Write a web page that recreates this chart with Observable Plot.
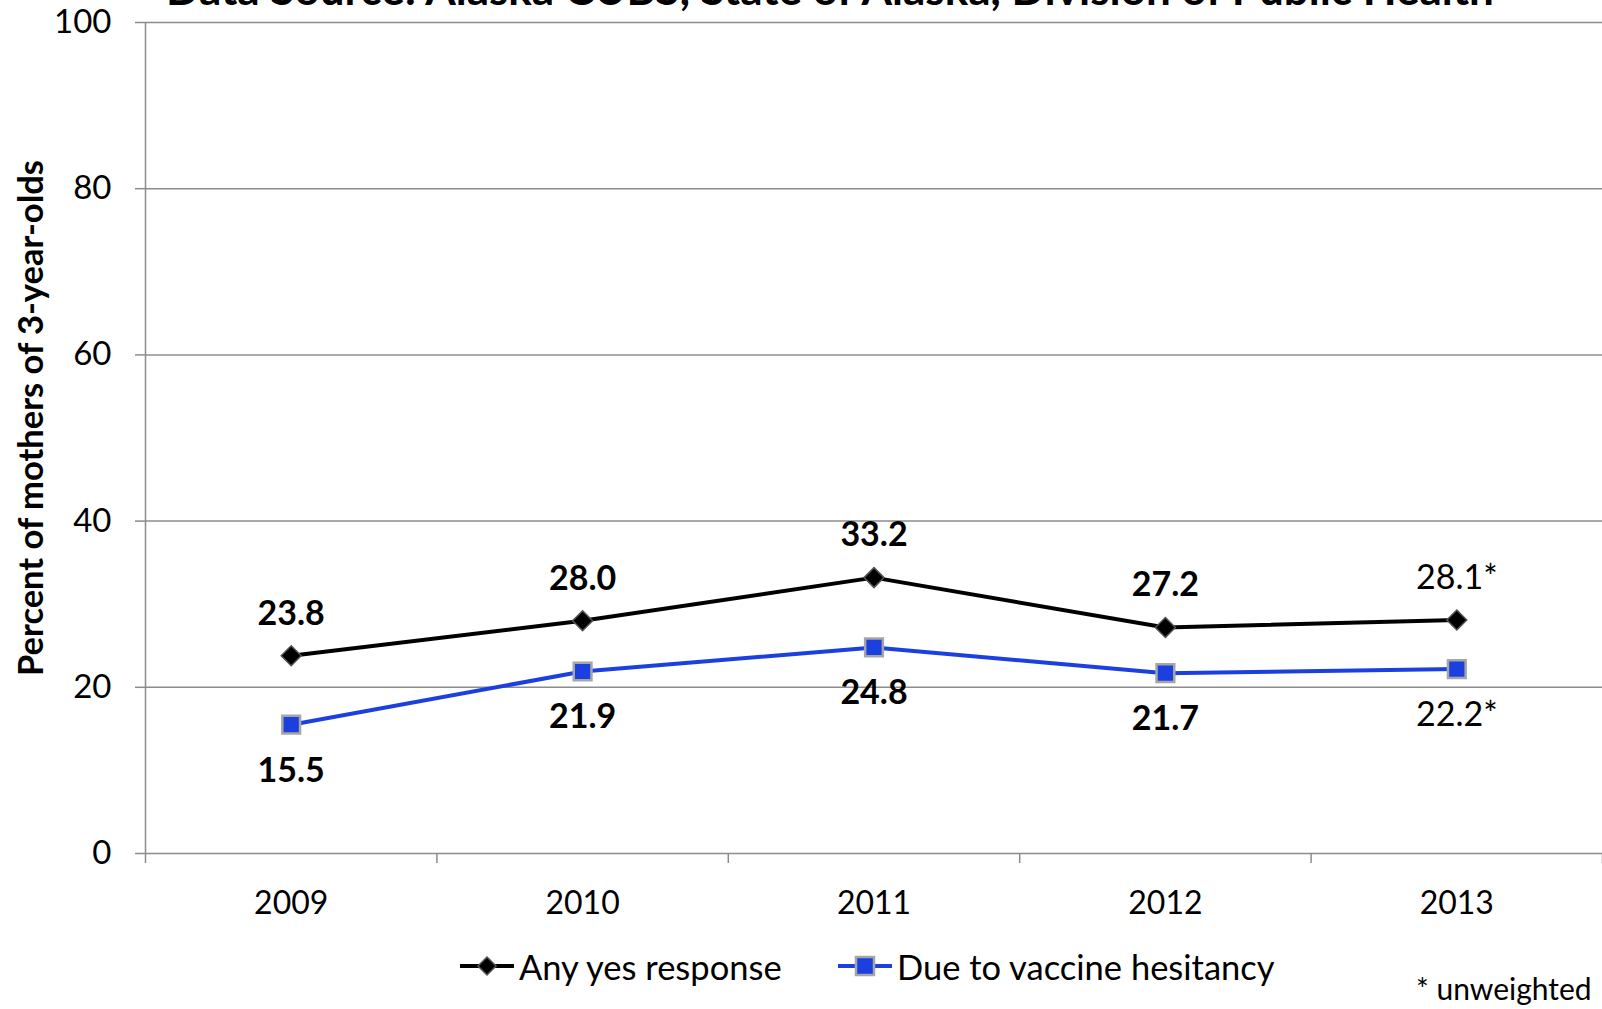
<!DOCTYPE html>
<html>
<head>
<meta charset="utf-8">
<script src="https://cdn.jsdelivr.net/npm/d3@7"></script>
<script src="https://cdn.jsdelivr.net/npm/@observablehq/plot@0.6"></script>
<style>
  html, body { margin: 0; padding: 0; background: #fff; }
  body { width: 1602px; height: 1009px; position: relative; overflow: hidden; font-family: Lato, "Open Sans", sans-serif; color: #000; }
  #title { position: absolute; left: 0; width: 1660px; text-align: center; font-weight: bold; font-size: 44px; line-height: 44px; top: -34px; white-space: nowrap; z-index: 2; }
  #chart { position: absolute; left: 0; top: 0; z-index: 1; }
  .legend-item { position: absolute; display: flex; align-items: center; font-size: 34.5px; white-space: nowrap; z-index: 2; }
  .legend-item svg { margin-right: 5px; }
  #note { position: absolute; left: 1416px; top: 970px; font-size: 30px; white-space: nowrap; z-index: 2; }
</style>
</head>
<body>
<div id="title">Data Source: Alaska CUBS, State of Alaska, Division of Public Health</div>
<div id="chart"></div>
<div id="legend"></div>
<div id="note">* unweighted</div>
<script>
// ---- data ----
const years = [2009, 2010, 2011, 2012, 2013];
const anyYes = [23.8, 28.0, 33.2, 27.2, 28.1];
const vaccineHesitancy = [15.5, 21.9, 24.8, 21.7, 22.2];
const unweighted = [false, false, false, false, true];
const seriesNames = ["Any yes response", "Due to vaccine hesitancy"];
const seriesColors = ["#000000", "#1c3fe0"];
const yTicks = [0, 20, 40, 60, 80, 100];
const yLabel = "Percent of mothers of 3-year-olds";

const rows = [];
years.forEach((yr, i) => {
  rows.push({year: yr, series: seriesNames[0], value: anyYes[i], unweighted: unweighted[i]});
  rows.push({year: yr, series: seriesNames[1], value: vaccineHesitancy[i], unweighted: unweighted[i]});
});
const black = rows.filter(d => d.series === seriesNames[0]);
const blue = rows.filter(d => d.series === seriesNames[1]);
const bounds = [years[0] - 0.5, ...years.map(y => y + 0.5)];
const fmt = d => d.value.toFixed(1) + (d.unweighted ? "*" : "");
const gridColor = "#8c8c8c";

const chart = Plot.plot({
  width: 1602,
  height: 930,
  marginTop: 22,
  marginBottom: 77,
  marginLeft: 145,
  marginRight: 0,
  style: {fontFamily: "Lato, 'Open Sans', sans-serif", color: "#000", background: "transparent", overflow: "visible"},
  x: {type: "linear", domain: [bounds[0], bounds[bounds.length - 1]]},
  y: {domain: [0, 100]},
  marks: [
    Plot.gridY(yTicks.filter(v => v > 0), {stroke: gridColor, strokeOpacity: 1, strokeWidth: 1.5}),
    Plot.ruleY([0], {stroke: gridColor, strokeWidth: 1.5}),
    Plot.ruleX([bounds[0]], {y1: 0, y2: 100, stroke: gridColor, strokeWidth: 1.5}),
    Plot.axisY(yTicks, {tickSize: 10, tickPadding: 24, fontSize: 33, stroke: gridColor, strokeWidth: 1.5, label: null}),
    Plot.axisX(bounds, {tickSize: 10, tickFormat: () => "", stroke: gridColor, strokeWidth: 1.5, label: null}),
    Plot.axisX(years, {tickSize: 0, tickPadding: 38, fontSize: 32, tickFormat: d => String(d), label: null}),
    Plot.text([yLabel], {frameAnchor: "left", textAnchor: "middle", text: d => d, rotate: -90, dx: -114, dy: -20, fontSize: 34.5, fontWeight: "bold"}),
    Plot.line(black, {x: "year", y: "value", stroke: seriesColors[0], strokeWidth: 4}),
    Plot.line(blue, {x: "year", y: "value", stroke: seriesColors[1], strokeWidth: 4}),
    Plot.dot(black, {x: "year", y: "value", symbol: "diamond2", r: 9, fill: seriesColors[0], stroke: "#555", strokeWidth: 1.5}),
    Plot.dot(blue, {x: "year", y: "value", symbol: "square", r: 10, fill: seriesColors[1], stroke: "#a6a6a6", strokeWidth: 2.5}),
    Plot.text(black.filter(d => !d.unweighted), {x: "year", y: "value", text: fmt, dy: -42, fontSize: 34, fontWeight: "bold"}),
    Plot.text(black.filter(d => d.unweighted), {x: "year", y: "value", text: fmt, dy: -42, fontSize: 34}),
    Plot.text(blue.filter(d => !d.unweighted), {x: "year", y: "value", text: fmt, dy: 46, fontSize: 34, fontWeight: "bold"}),
    Plot.text(blue.filter(d => d.unweighted), {x: "year", y: "value", text: fmt, dy: 46, fontSize: 34})
  ]
});
document.getElementById("chart").appendChild(chart);

// ---- legend ----
const legend = document.getElementById("legend");
const legendLefts = [460, 838];
seriesNames.forEach((name, i) => {
  const item = document.createElement("div");
  item.className = "legend-item";
  item.style.left = legendLefts[i] + "px";
  item.style.top = "946px";
  item.style.height = "40px";
  const marker = i === 0
    ? `<path d="M27,11 L36,20 L27,29 L18,20 Z" fill="#000" stroke="#555" stroke-width="1.5"/>`
    : `<rect x="18" y="11" width="18" height="18" fill="${seriesColors[1]}" stroke="#a6a6a6" stroke-width="2.5"/>`;
  item.innerHTML = `<svg width="54" height="40" viewBox="0 0 54 40"><line x1="0" y1="20" x2="54" y2="20" stroke="${seriesColors[i]}" stroke-width="4"/>${marker}</svg><span>${name}</span>`;
  legend.appendChild(item);
});
</script>
</body>
</html>
